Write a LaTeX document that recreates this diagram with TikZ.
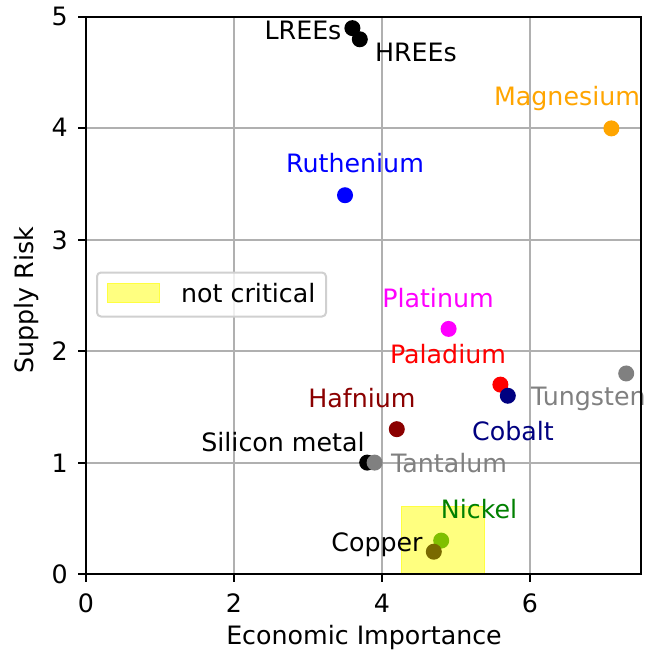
\documentclass[tikz,border=0pt]{standalone}
\usepackage{fontspec}
\setmainfont{DejaVu Sans}
\definecolor{gridgray}{HTML}{B0B0B0}
\definecolor{mpgray}{HTML}{808080}
\definecolor{mporange}{HTML}{FFA500}
\definecolor{mpblue}{HTML}{0000FF}
\definecolor{mpmagenta}{HTML}{FF00FF}
\definecolor{mpred}{HTML}{FF0000}
\definecolor{mpnavy}{HTML}{000080}
\definecolor{mpdarkred}{HTML}{8B0000}
\definecolor{mpgreen}{HTML}{008000}
\definecolor{mpyellow}{HTML}{FFFF00}
\definecolor{nickelpt}{HTML}{80BF00}
\definecolor{copperpt}{HTML}{7A6A00}
\definecolor{legedge}{HTML}{D0D0D0}
\begin{document}
\begin{tikzpicture}[x=1pt,y=-1pt,
  every node/.style={font=\fontsize{25.3}{30}\selectfont, inner sep=0pt},
  pt/.style={circle, fill=#1, minimum size=16pt, inner sep=0pt},
  lbl/.style={anchor=base, text=#1},
  gridline/.style={gridgray, line width=2pt},
  spine/.style={black, line width=2pt},
  tick/.style={black, line width=2pt}]
\useasboundingbox (0,0) rectangle (649,652);
\fill[white] (0,0) rectangle (649,652);
\begin{scope}[shift={(86,574)}, x=74pt, y=111.4pt]
  % grid
  \foreach \gx in {2,4,6} \draw[gridline] (\gx,0) -- (\gx,5);
  \foreach \gy in {1,2,3,4} \draw[gridline] (0,\gy) -- (7.5,\gy);
  % points
  \node[pt=black] (pL) at (3.6,4.9) {};
  \node[pt=black] (pH) at (3.7,4.8) {};
  \node[pt=mporange] (pMg) at (7.1,4.0) {};
  \node[pt=mpblue] (pRu) at (3.5,3.4) {};
  \node[pt=mpmagenta] (pPt) at (4.9,2.2) {};
  \node[pt=mpred] (pPd) at (5.6,1.7) {};
  \node[pt=mpgray] (pW) at (7.3,1.8) {};
  \node[pt=mpnavy] (pCo) at (5.7,1.6) {};
  \node[pt=mpdarkred] (pHf) at (4.2,1.3) {};
  \node[pt=black] (pSi) at (3.8,1.0) {};
  \node[pt=mpgray] (pTa) at (3.9,1.0) {};
  % not critical region
  \fill[mpyellow, fill opacity=0.5] (4.27,0) rectangle (5.38,0.61);
  \draw[mpyellow!75!white, line width=1pt] (4.27,0) rectangle (5.38,0.61);
  \node[pt=nickelpt] (pNi) at (4.8,0.3) {};
  \node[pt=copperpt] (pCu) at (4.7,0.2) {};
\end{scope}
% labels
\node[lbl=black] (tL) at (303,40) {LREEs};
\node[lbl=black] (tH) at (416,62) {HREEs};
\node[lbl=mporange] (tMg) at (567,106) {Magnesium};
\node[lbl=mpblue] (tRu) at (355,173) {Ruthenium};
\node[lbl=mpmagenta] (tPt) at (438,307) {Platinum};
\node[lbl=mpred] (tPd) at (448,363) {Paladium};
\node[anchor=base west, text=mpgray] (tW) at (531,405) {Tungsten};
\node[lbl=mpnavy] (tCo) at (513,440) {Cobalt};
\node[lbl=mpdarkred] (tHf) at (362,407) {Hafnium};
\node[lbl=black] (tSi) at (283,451) {Silicon metal};
\node[lbl=mpgray] (tTa) at (449,472) {Tantalum};
\node[lbl=mpgreen] (tNi) at (479,518) {Nickel};
\node[lbl=black] (tCu) at (377,551) {Copper};
% spines
\draw[spine] (86,17) rectangle (641,574);
% ticks and tick labels
\foreach \gx/\px in {0/86,2/234,4/382,6/530} {
  \draw[tick] (\px,574) -- (\px,582);
  \node[anchor=base] (xt\gx) at (\px,612) {\gx};
}
\foreach \gy/\py in {0/574,1/463,2/351,3/240,4/128,5/17} {
  \draw[tick] (78,\py) -- (86,\py);
  \node[anchor=base east] (yt\gy) at (68,\py+9) {\gy};
}
% axis labels
\node[anchor=base] (xlab) at (364,644) {Economic Importance};
\node[anchor=base, rotate=90] (ylab) at (33,300) {Supply Risk};
% legend
\node[draw=legedge, fill=white, fill opacity=0.8, text opacity=1, line width=2pt, rounded corners=4pt,
  minimum width=229pt, minimum height=44pt] (leg) at (211.5,294.5) {};
\node[draw=mpyellow!75!white, fill=mpyellow!50!white, line width=1pt, minimum width=52pt, minimum height=19pt] (legpatch) at (133.5,293) {};
\node[anchor=base west] (legtxt) at (181,302) {not critical};
\end{tikzpicture}
\end{document}
